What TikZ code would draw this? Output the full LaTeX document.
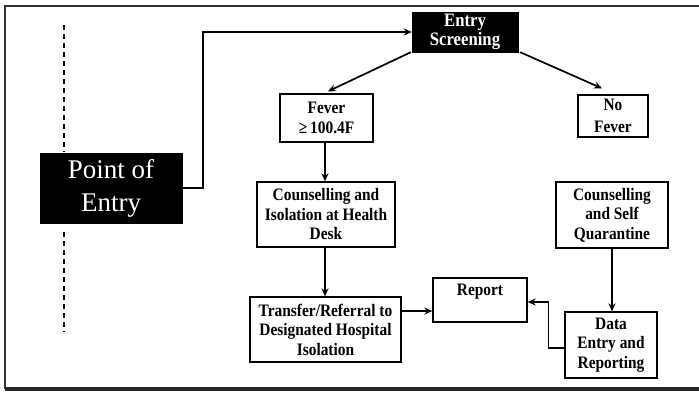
\documentclass[tikz,border=0pt]{standalone}
\usepackage{fontspec}
\setmainfont{Liberation Serif}
\newfontfamily\condserif{Liberation Serif}[FakeStretch=0.88]
\usetikzlibrary{arrows.meta,calc}
\tikzset{
  box/.style={draw=black,line width=1.3pt,fill=white,inner sep=0pt,align=center,
    font=\condserif\bfseries\fontsize{17.5}{19.5}\selectfont},
  darkbox/.style={draw=black,fill=black,text=white,inner sep=0pt,align=center},
  arr/.style={line width=1.7pt,-{Stealth[length=8pt,width=7pt]}},
  dashln/.style={line width=1.6pt,dash pattern=on 5pt off 4pt}
}
\begin{document}
\begin{tikzpicture}[x=1pt,y=-1pt]
\useasboundingbox (0,0) rectangle (699,392);
\fill[white] (0,0) rectangle (699,392);
% frame
\draw[line width=2.5pt,black!80] (5,389) -- (5,6) -- (699,6);
\draw[line width=4pt,black!85] (5,389) -- (699,389);
% dashed line
\draw[dashln] (64,25) -- (64,152);
\draw[dashln] (64,232) -- (64,332);
% nodes
\node[darkbox,minimum width=142pt,minimum height=70pt,
  font=\fontsize{27}{33}\selectfont] (poe) at (111,188) {Point of\\Entry};
\node[darkbox,minimum width=106pt,minimum height=40pt,
  font=\condserif\bfseries\fontsize{19}{19}\selectfont] (es) at (465,32) {Entry\\Screening};
\node[box,minimum width=93pt,minimum height=48pt] (fev) at (326.5,118) {Fever\\[1pt]≥\,100.4F};
\node[box,minimum width=138pt,minimum height=65pt] (cis) at (326,214.5) {Counselling and\\Isolation at Health\\Desk};
\node[box,minimum width=151pt,minimum height=65pt] (tr) at (325.5,329.5) {Transfer/Referral to\\Designated Hospital\\Isolation};
\node[box,minimum width=94pt,minimum height=44pt,text height=17pt,text depth=27pt] (rep) at (480,300) {Report};
\node[box,minimum width=70pt,minimum height=42pt] (nf) at (613,116) {No\\[2pt]Fever};
\node[box,minimum width=112pt,minimum height=66pt] (csq) at (612,215) {Counselling\\and Self\\Quarantine};
\node[box,minimum width=92pt,minimum height=66pt] (de) at (611,345) {Data\\Entry and\\Reporting};
% connectors
\draw[arr] (poe.east) -- ++(21,0) |- (es.west);
\draw[arr] ([xshift=-1pt]es.south west) -- ($(fev.north)+(1.5,-2)$);
\draw[arr] ([xshift=2pt]es.south east) -- ($(nf.north)+(-11,-6)$);
\draw[arr] (fev.south -| 325,0) -- (cis.north -| 325,0);
\draw[arr] (cis.south -| 325,0) -- (tr.north -| 325,0);
\coordinate (t1) at ($(tr.east)+(0,-18.5)$);
\draw[arr] (t1) -- (t1 -| rep.west);
\draw[arr] (csq.south -| 612,0) -- (de.north -| 612,0);
\draw[arr] ($(de.west)+(0,3)$) -- ++(-16,0) |- ($(rep.east)+(0,2)$);
\end{tikzpicture}
\end{document}
